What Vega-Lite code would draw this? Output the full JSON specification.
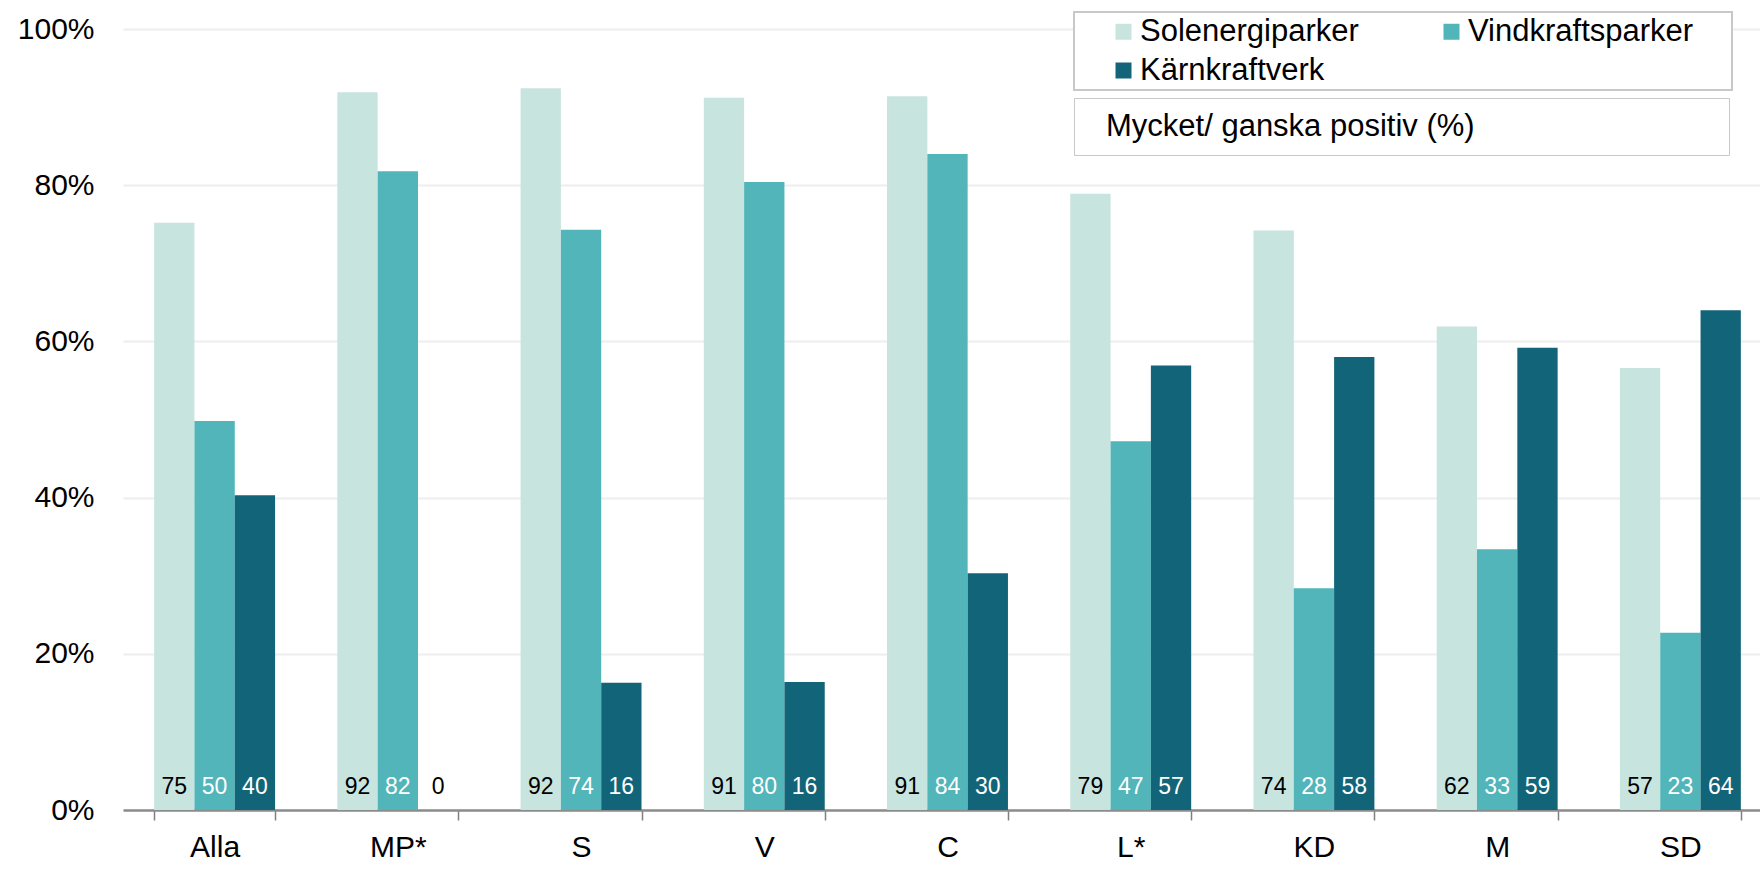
{
  "$schema": "https://vega.github.io/schema/vega-lite/v6.json",
  "width": 1649,
  "height": 781,
  "autosize": {"type": "none"},
  "padding": {"left": 123, "top": 29, "right": -12, "bottom": 62},
  "background": "white",
  "config": {
    "view": {"stroke": null},
    "font": "Liberation Sans",
    "axis": {"labelFont": "Liberation Sans", "labelColor": "#000000"},
    "legend": {"labelFont": "Liberation Sans", "labelColor": "#000000"}
  },
  "data": {
    "values": [
      {"parti": "Alla", "serie": "Solenergiparker", "value": 75.2},
      {"parti": "Alla", "serie": "Vindkraftsparker", "value": 49.8},
      {"parti": "Alla", "serie": "Kärnkraftverk", "value": 40.3},
      {"parti": "MP*", "serie": "Solenergiparker", "value": 91.9},
      {"parti": "MP*", "serie": "Vindkraftsparker", "value": 81.8},
      {"parti": "MP*", "serie": "Kärnkraftverk", "value": 0},
      {"parti": "S", "serie": "Solenergiparker", "value": 92.4},
      {"parti": "S", "serie": "Vindkraftsparker", "value": 74.3},
      {"parti": "S", "serie": "Kärnkraftverk", "value": 16.3},
      {"parti": "V", "serie": "Solenergiparker", "value": 91.2},
      {"parti": "V", "serie": "Vindkraftsparker", "value": 80.4},
      {"parti": "V", "serie": "Kärnkraftverk", "value": 16.4},
      {"parti": "C", "serie": "Solenergiparker", "value": 91.4},
      {"parti": "C", "serie": "Vindkraftsparker", "value": 84.0},
      {"parti": "C", "serie": "Kärnkraftverk", "value": 30.3},
      {"parti": "L*", "serie": "Solenergiparker", "value": 78.9},
      {"parti": "L*", "serie": "Vindkraftsparker", "value": 47.2},
      {"parti": "L*", "serie": "Kärnkraftverk", "value": 56.9},
      {"parti": "KD", "serie": "Solenergiparker", "value": 74.2},
      {"parti": "KD", "serie": "Vindkraftsparker", "value": 28.4},
      {"parti": "KD", "serie": "Kärnkraftverk", "value": 58.0},
      {"parti": "M", "serie": "Solenergiparker", "value": 61.9},
      {"parti": "M", "serie": "Vindkraftsparker", "value": 33.4},
      {"parti": "M", "serie": "Kärnkraftverk", "value": 59.2},
      {"parti": "SD", "serie": "Solenergiparker", "value": 56.6},
      {"parti": "SD", "serie": "Vindkraftsparker", "value": 22.7},
      {"parti": "SD", "serie": "Kärnkraftverk", "value": 64.0}
    ]
  },
  "encoding": {
    "x": {
      "field": "parti",
      "type": "nominal",
      "sort": ["Alla", "MP*", "S", "V", "C", "L*", "KD", "M", "SD"],
      "scale": {"paddingInner": 0.34, "paddingOuter": 0.17},
      "axis": {
        "title": null,
        "labelAngle": 0,
        "labelFontSize": 30,
        "labelPadding": 12,
        "tickBand": "extent",
        "ticks": true,
        "tickSize": 10,
        "tickColor": "#7f7f7f",
        "tickWidth": 1.5,
        "domainColor": "#8c8c8c",
        "domainWidth": 2.5,
        "grid": false
      }
    },
    "xOffset": {
      "field": "serie",
      "type": "nominal",
      "sort": ["Solenergiparker", "Vindkraftsparker", "Kärnkraftverk"],
      "scale": {"paddingInner": 0, "paddingOuter": 0}
    }
  },
  "layer": [
    {
      "mark": {"type": "bar"},
      "encoding": {
        "y": {
          "field": "value",
          "type": "quantitative",
          "scale": {"domain": [0, 100], "nice": false},
          "axis": {
            "title": null,
            "values": [0, 20, 40, 60, 80, 100],
            "labelExpr": "datum.value + '%'",
            "labelFontSize": 30,
            "labelPadding": 29,
            "ticks": false,
            "domain": false,
            "grid": true,
            "gridColor": "#eeeeee",
            "gridWidth": 2
          }
        },
        "color": {
          "field": "serie",
          "type": "nominal",
          "scale": {
            "domain": ["Solenergiparker", "Kärnkraftverk", "Vindkraftsparker"],
            "range": ["#c8e4df", "#126578", "#51b5ba"]
          },
          "legend": {
            "title": null,
            "orient": "none",
            "legendX": 951,
            "legendY": -17,
            "columns": 2,
            "columnPadding": 47,
            "rowPadding": 7,
            "padding": 4,
            "symbolOffset": 30,
            "symbolType": "square",
            "symbolSize": 256,
            "symbolStrokeWidth": 0,
            "labelFontSize": 31,
            "labelOffset": 1,
            "labelLimit": 500,
            "labelExpr": "datum.label == 'Vindkraftsparker' ? datum.label + '\u00a0\u00a0\u00a0\u00a0\u200b' : datum.label",
            "strokeColor": "#c8c8c8",
            "fillColor": "white",
            "cornerRadius": 0,
            "encode": {"legend": {"update": {"strokeWidth": {"value": 2}}}}
          }
        }
      }
    },
    {
      "mark": {"type": "text", "baseline": "alphabetic", "align": "center", "dy": -16, "fontSize": 23, "font": "Liberation Sans"},
      "encoding": {
        "y": {"datum": 0},
        "text": {"field": "value", "type": "quantitative", "format": ".0f"},
        "color": {
          "condition": {"test": "datum.serie == 'Solenergiparker' || datum.value < 1", "value": "#000000"},
          "value": "#ffffff"
        }
      }
    },
    {
      "mark": {"type": "point", "opacity": 0},
      "encoding": {
        "y": {"datum": 0},
        "shape": {
          "datum": "Mycket/ ganska positiv (%)",
          "legend": {
            "title": null,
            "orient": "none",
            "legendX": 951,
            "legendY": 69,
            "padding": 13,
            "symbolSize": 0,
            "symbolOpacity": 0,
            "symbolOffset": 0,
            "symbolStrokeWidth": 0,
            "labelOffset": -12,
            "labelFontSize": 31,
            "labelLimit": 900,
            "labelExpr": "datum.label + '\u00a0\u00a0\u00a0\u00a0\u00a0\u00a0\u00a0\u00a0\u00a0\u00a0\u00a0\u00a0\u00a0\u00a0\u00a0\u00a0\u00a0\u00a0\u00a0\u00a0\u00a0\u00a0\u00a0\u00a0\u00a0\u00a0\u00a0\u00a0\u200b'",
            "strokeColor": "#c8c8c8",
            "fillColor": "white",
            "cornerRadius": 0,
            "encode": {"legend": {"update": {"strokeWidth": {"value": 2}}}}
          }
        }
      }
    }
  ]
}
